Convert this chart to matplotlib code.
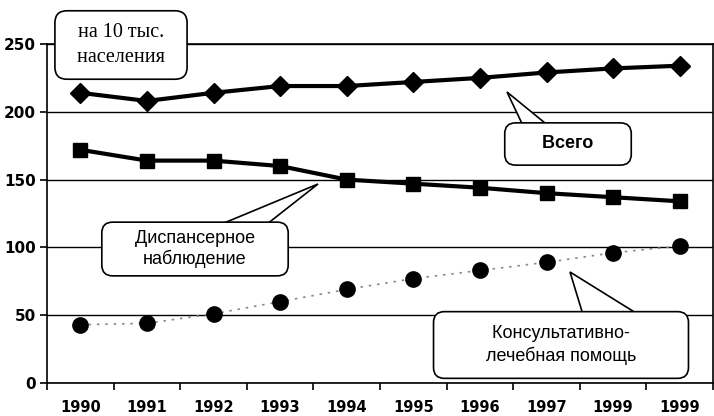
import numpy as np
import matplotlib
matplotlib.use("Agg")
import matplotlib.pyplot as plt
from matplotlib.patches import Polygon

years = ["1990", "1991", "1992", "1993", "1994", "1995", "1996", "1997", "1999", "1999"]
total = [214, 208, 214, 219, 219, 222, 225, 229, 232, 234]
dispensary = [172, 164, 164, 160, 150, 147, 144, 140, 137, 134]
consult = [43, 44, 51, 60, 69, 77, 83, 89, 96, 101]

plt.rcParams['font.family'] = ['Liberation Sans', 'DejaVu Sans']

fig = plt.figure(figsize=(7.14, 4.16), dpi=100)
ax = fig.add_axes([47 / 714, 33 / 416, 666 / 714, 339 / 416])

x = np.arange(len(years))
ax.plot(x, total, color='black', lw=3, marker='D', ms=10, zorder=3)
ax.plot(x, dispensary, color='black', lw=3, marker='s', ms=10, zorder=3)
ax.plot(x, consult, color='#888888', lw=1.2, ls=(0, (1.5, 3.5)), zorder=2)
ax.plot(x, consult, ls='none', marker='o', color='black', ms=11, zorder=3)

ax.set_xlim(-0.5, 9.5)
ax.set_ylim(0, 250)
ax.set_yticks(range(0, 251, 50))
ax.yaxis.grid(True, color='black', lw=1)
ax.set_axisbelow(True)

ax.set_xticks(np.arange(-0.5, 10, 1))
ax.set_xticklabels([])
ax.set_xticks(x, minor=True)
ax.set_xticklabels(years, minor=True, fontsize=10.5, fontweight='bold', family=['DejaVu Sans'])
ax.tick_params(axis='x', which='minor', length=0, pad=12)
ax.tick_params(axis='x', which='major', length=5, width=1.2, direction='out')
ax.tick_params(axis='y', length=5, width=1.2, labelsize=11, pad=3)
for lab in ax.get_yticklabels():
    lab.set_fontweight('bold')
    lab.set_family(['DejaVu Sans'])
for s in ax.spines.values():
    s.set_linewidth(1.2)


def px(xp, yp):
    # reference pixel position -> data coordinates
    return ((xp - 47) / 66.6 - 0.5, (383 - yp) / 1.356)


def callout(text, center, tip=None, base=None, pad=0.5, **kw):
    if tip is not None:
        pts = [px(*tip), px(*base[0]), px(*base[1])]
        ax.add_patch(Polygon(pts, closed=True, fc='white', ec='black', lw=1.2,
                             zorder=4, clip_on=False))
    cx, cy = px(*center)
    ax.text(cx, cy, text, ha='center', va='center', zorder=5, clip_on=False,
            bbox=dict(boxstyle=f'round,pad={pad},rounding_size=0.6',
                      fc='white', ec='black', lw=1.2), **kw)


callout("  на 10 тыс.  \n  населения  ", (121, 45), pad=0.6, fontsize=14.5,
        family=['Liberation Serif'], linespacing=1.45)
callout("     Всего     ", (568, 144), tip=(507, 92), base=((526, 132), (556, 132)),
        pad=0.7, fontsize=13, fontweight='bold')
callout("     Диспансерное     \nнаблюдение", (195, 249), tip=(318, 184),
        base=((212, 228), (262, 228)), pad=0.45, fontsize=13, linespacing=1.15)
callout("         Консультативно-         \nлечебная помощь", (561, 345), tip=(570, 272),
        base=((584, 318), (644, 318)), pad=0.75, fontsize=13, linespacing=1.3)

fig.savefig("out.png", dpi=100)
